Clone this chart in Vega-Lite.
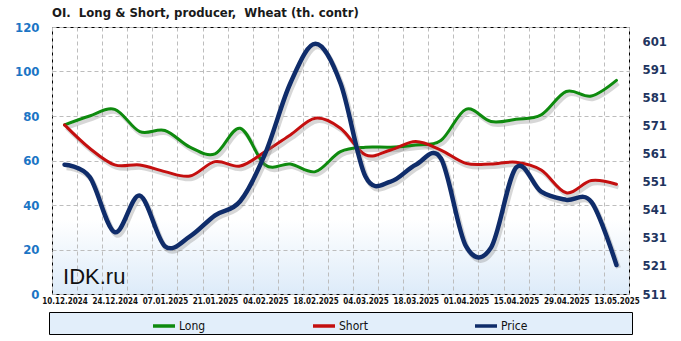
{
  "$schema": "https://vega.github.io/schema/vega-lite/v6.json",
  "width": 577,
  "height": 267,
  "autosize": {"type": "none"},
  "padding": {"left": 52, "top": 27, "right": 52, "bottom": 47},
  "background": "#FFFFFF",
  "title": {
    "text": "OI.\u00a0 Long & Short, producer,\u00a0 Wheat (th. contr)",
    "anchor": "start",
    "frame": "group",
    "font": "DejaVu Sans Condensed",
    "fontSize": 13,
    "fontWeight": "bold",
    "color": "#1A1A1A",
    "offset": 1
  },
  "data": {
    "values": [
      {"date": "10.12.2024", "Long": 76, "Short": 76, "Price": 557},
      {"date": "17.12.2024", "Long": 80, "Short": 65.5, "Price": 552.7},
      {"date": "24.12.2024", "Long": 83, "Short": 58, "Price": 533},
      {"date": "31.12.2024", "Long": 73, "Short": 58, "Price": 546},
      {"date": "07.01.2025", "Long": 73.5, "Short": 55, "Price": 528},
      {"date": "14.01.2025", "Long": 66, "Short": 53, "Price": 531.5},
      {"date": "21.01.2025", "Long": 63, "Short": 59.5, "Price": 539},
      {"date": "28.01.2025", "Long": 74.5, "Short": 57.5, "Price": 544},
      {"date": "04.02.2025", "Long": 58, "Short": 64, "Price": 561},
      {"date": "11.02.2025", "Long": 58.4, "Short": 71.5, "Price": 586},
      {"date": "18.02.2025", "Long": 55, "Short": 79, "Price": 600},
      {"date": "25.02.2025", "Long": 64, "Short": 74.5, "Price": 586},
      {"date": "04.03.2025", "Long": 66, "Short": 62.5, "Price": 552.7},
      {"date": "11.03.2025", "Long": 66, "Short": 64.7, "Price": 551},
      {"date": "18.03.2025", "Long": 67, "Short": 68.5, "Price": 557},
      {"date": "25.03.2025", "Long": 69, "Short": 64.7, "Price": 559.3},
      {"date": "01.04.2025", "Long": 83, "Short": 58.7, "Price": 528},
      {"date": "08.04.2025", "Long": 77.5, "Short": 58.4, "Price": 527.5},
      {"date": "15.04.2025", "Long": 78.5, "Short": 59.2, "Price": 556},
      {"date": "22.04.2025", "Long": 80.5, "Short": 55.7, "Price": 547.4},
      {"date": "29.04.2025", "Long": 91, "Short": 45.5, "Price": 544.5},
      {"date": "06.05.2025", "Long": 89, "Short": 51, "Price": 543.8},
      {"date": "13.05.2025", "Long": 96, "Short": 49.3, "Price": 521.3}
    ]
  },
  "transform": [
    {"fold": ["Long", "Short", "Price"], "as": ["series", "value"]}
  ],
  "encoding": {
    "x": {
      "field": "date",
      "type": "ordinal",
      "sort": null,
      "scale": {"type": "band", "paddingInner": 0, "paddingOuter": 0},
      "axis": {
        "title": null,
        "grid": true,
        "ticks": false,
        "domain": false,
        "tickBand": "extent",
        "labelAngle": 0,
        "labelOverlap": false,
        "labelPadding": 3,
        "labelFont": "DejaVu Sans Condensed",
        "labelFontWeight": "bold",
        "labelFontSize": 8,
        "labelColor": "#111111",
        "labelExpr": "indexof(['10.12.2024','24.12.2024','07.01.2025','21.01.2025','04.02.2025','18.02.2025','04.03.2025','18.03.2025','01.04.2025','15.04.2025','29.04.2025','13.05.2025'], datum.value) >= 0 ? datum.label : ''"
      }
    }
  },
  "layer": [
    {
      "encoding": {
        "y": {
          "field": "value",
          "type": "quantitative",
          "scale": {"domain": [0, 120], "nice": false},
          "axis": {
            "title": null,
            "orient": "left",
            "values": [0, 20, 40, 60, 80, 100, 120],
            "grid": true,
            "ticks": false,
            "tickSize": 0,
            "domain": false,
            "labelPadding": 13,
            "labelFont": "DejaVu Sans Condensed",
            "labelFontWeight": "bold",
            "labelFontSize": 13,
            "labelColor": "#1B75C5"
          }
        }
      },
      "layer": [
        {
          "transform": [{"filter": "datum.series != 'Price'"}],
          "mark": {"type": "line", "interpolate": "cardinal", "tension": 0, "color": "#7A7A7A", "opacity": 0.3, "strokeWidth": 4, "xOffset": 2, "yOffset": 3},
          "encoding": {"detail": {"field": "series"}}
        },
        {
          "transform": [{"filter": "datum.series != 'Price'"}],
          "mark": {"type": "line", "interpolate": "cardinal", "tension": 0, "strokeWidth": 3, "strokeCap": "round", "strokeJoin": "round"},
          "encoding": {
            "color": {
              "field": "series",
              "type": "nominal",
              "scale": {"domain": ["Long", "Short", "Price"], "range": ["#0E8A0E", "#C40F0F", "#0F2C6A"]},
              "legend": {
                "title": "\u00a0",
                "titleOrient": "left",
                "titleFontSize": 2,
                "titlePadding": 101,
                "orient": "none",
                "legendX": -3,
                "legendY": 285,
                "direction": "horizontal",
                "columns": 3,
                "columnPadding": 100,
                "symbolType": "stroke",
                "symbolSize": 484,
                "symbolStrokeWidth": 3.5,
                "labelFont": "DejaVu Sans Condensed",
                "labelFontSize": 12,
                "labelColor": "#111111",
                "labelOffset": 2,
                "labelLimit": 300,
                "padding": 1,
                "strokeColor": "#000000",
                "fillColor": "#E2EEFA",
                "labelExpr": "datum.label == 'Price' ? datum.label + '\u00a0\u00a0\u00a0\u00a0\u00a0\u00a0\u00a0\u00a0\u00a0\u00a0\u00a0\u00a0\u00a0\u00a0\u00a0\u00a0\u00a0\u00a0\u00a0\u00a0\u00a0\u00a0\u00a0\u00a0\u00a0\u00a0\u00a0\u00a0\u00a0\u00a0\u200b' : datum.label"
              }
            }
          }
        },
        {
          "transform": [{"filter": "datum.series == 'Long' && datum.date == '10.12.2024'"}],
          "mark": {"type": "text", "align": "left", "baseline": "alphabetic", "font": "Liberation Sans", "fontSize": 22, "fill": "#111111", "dx": -1.5},
          "encoding": {
            "y": {"datum": 4.5},
            "text": {"value": "IDK.ru"}
          }
        }
      ]
    },
    {
      "encoding": {
        "y": {
          "field": "value",
          "type": "quantitative",
          "scale": {"domain": [511, 606], "nice": false, "zero": false},
          "axis": {
            "title": null,
            "orient": "right",
            "values": [511, 521, 531, 541, 551, 561, 571, 581, 591, 601],
            "grid": false,
            "ticks": false,
            "tickSize": 0,
            "domain": false,
            "labelPadding": 13,
            "labelFont": "DejaVu Sans Condensed",
            "labelFontWeight": "bold",
            "labelFontSize": 13,
            "labelColor": "#1F3560"
          }
        }
      },
      "layer": [
        {
          "transform": [{"filter": "datum.series == 'Price'"}],
          "mark": {"type": "line", "interpolate": "cardinal", "tension": 0, "color": "#7A7A7A", "opacity": 0.3, "strokeWidth": 5, "xOffset": 2, "yOffset": 3},
          "encoding": {"detail": {"field": "series"}}
        },
        {
          "transform": [{"filter": "datum.series == 'Price'"}],
          "mark": {"type": "line", "interpolate": "cardinal", "tension": 0, "strokeWidth": 4.5, "strokeCap": "round", "strokeJoin": "round"},
          "encoding": {
            "color": {"field": "series", "type": "nominal"}
          }
        }
      ]
    }
  ],
  "resolve": {"scale": {"y": "independent"}},
  "config": {
    "view": {
      "stroke": "#000000",
      "strokeWidth": 1,
      "fill": {
        "gradient": "linear",
        "x1": 0, "y1": 0, "x2": 0, "y2": 1,
        "stops": [
          {"offset": 0, "color": "#FFFFFF"},
          {"offset": 0.72, "color": "#FFFFFF"},
          {"offset": 1, "color": "#DDEBF9"}
        ]
      }
    },
    "axis": {"gridColor": "#BDBDBD", "gridDash": [4, 3], "gridWidth": 1}
  }
}
